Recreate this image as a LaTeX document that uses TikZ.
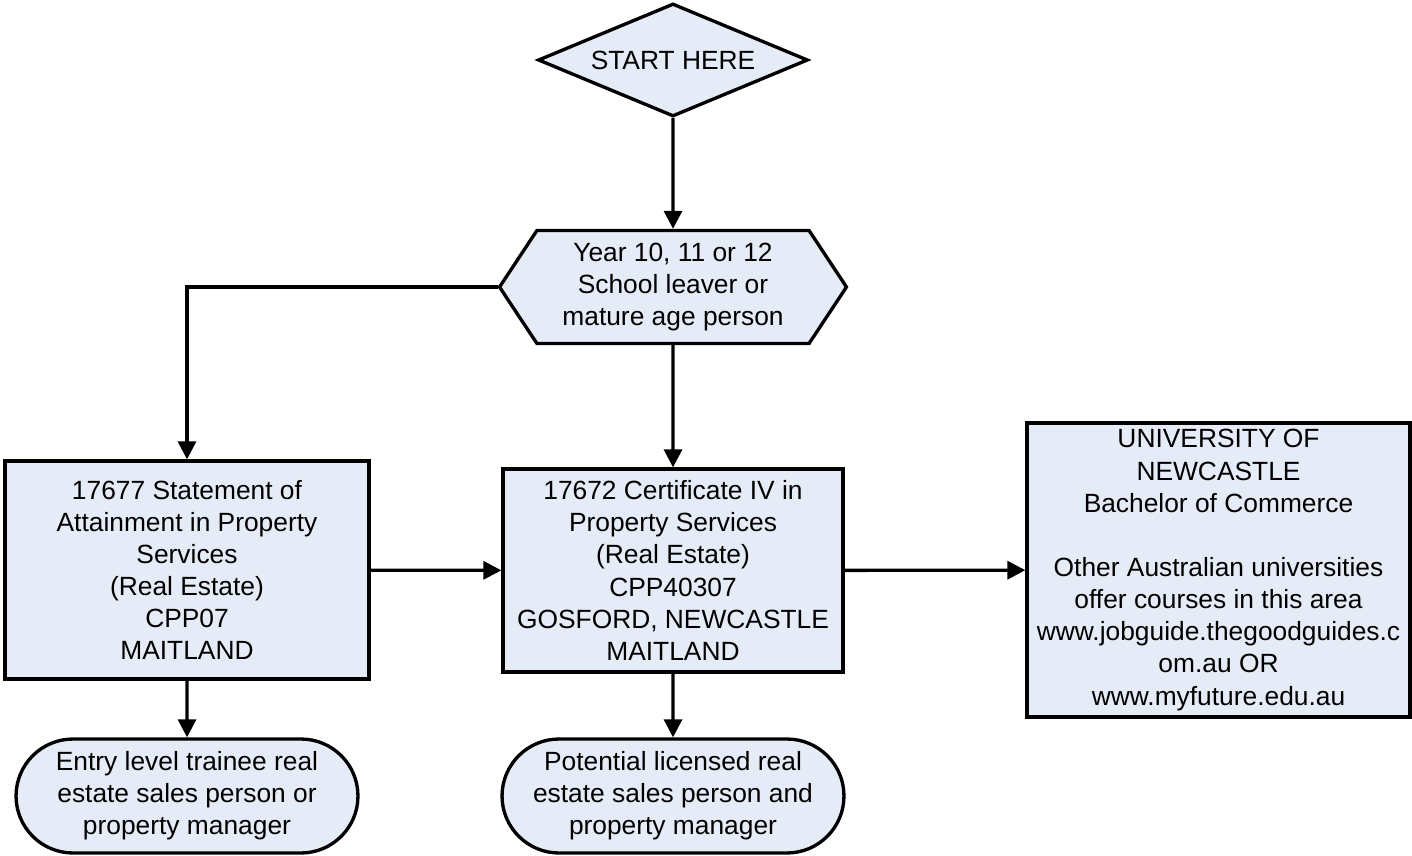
\documentclass[tikz,border=0pt]{standalone}
\usepackage{fontspec}
\setmainfont{Liberation Sans}
\usetikzlibrary{shapes.geometric,shapes.symbols,shapes.misc,arrows.meta}
\definecolor{boxfill}{HTML}{E6ECF7}
\begin{document}
\begin{tikzpicture}[
            x=0.02cm, y=-0.02cm,
            base/.style  ={draw, fill=boxfill, line width=1.9pt, inner sep=0pt,
                           align=center, font=\fontsize{15}{18.3}\selectfont},
            start/.style ={base, diamond, aspect=2.39, minimum width=5.4cm, minimum height=2.26cm},
            hexa/.style  ={base, signal, signal to=west and east, signal pointer angle=113,
                           minimum width=6.94cm, minimum height=2.26cm},
            box/.style   ={base, rectangle},
            term/.style  ={base, rounded rectangle, minimum width=6.84cm, minimum height=2.28cm},
            arr/.style   ={-{Triangle[length=0.36cm,width=0.36cm]}, line width=1.9pt}
        ]
            \useasboundingbox (0,0) rectangle (1412,855);

            %-----------------  Inicio y perfil  --------------------
            \node[start] (start) at (673,60) {START HERE};
            \node[hexa]  (year)  at (673,287) {Year 10, 11 or 12\\School leaver or\\mature age person};

            %-----------------  Cursos  --------------------
            \node[box, minimum width=7.28cm, minimum height=4.36cm] (attain) at (187,570)
                {17677 Statement of\\Attainment in Property\\Services\\(Real Estate)\\CPP07\\MAITLAND};
            \node[box, minimum width=6.8cm, minimum height=4.06cm] (cert) at (673,570.5)
                {17672 Certificate IV in\\Property Services\\(Real Estate)\\CPP40307\\GOSFORD, NEWCASTLE\\MAITLAND};
            \node[box, minimum width=7.66cm, minimum height=5.88cm] (uni) at (1218.5,570)
                {UNIVERSITY OF\\NEWCASTLE\\Bachelor of Commerce\\[18.3pt]Other Australian universities\\offer courses in this area\\www.jobguide.thegoodguides.c\\om.au OR\\www.myfuture.edu.au};

            %-----------------  Salidas  --------------------
            \node[term] (entry) at (187,796) {Entry level trainee real\\estate sales person or\\property manager};
            \node[term] (lic)   at (673,796) {Potential licensed real\\estate sales person and\\property manager};

            %-----------------  Flechas  --------------------
            \draw[arr] (start) -- (year);
            \draw[arr] (year.west) -| (attain.north);
            \draw[arr] (year) -- (cert);
            \draw[arr] (attain) -- (cert);
            \draw[arr] (cert) -- (uni);
            \draw[arr] (attain) -- (entry);
            \draw[arr] (cert) -- (lic);
        \end{tikzpicture}
\end{document}
